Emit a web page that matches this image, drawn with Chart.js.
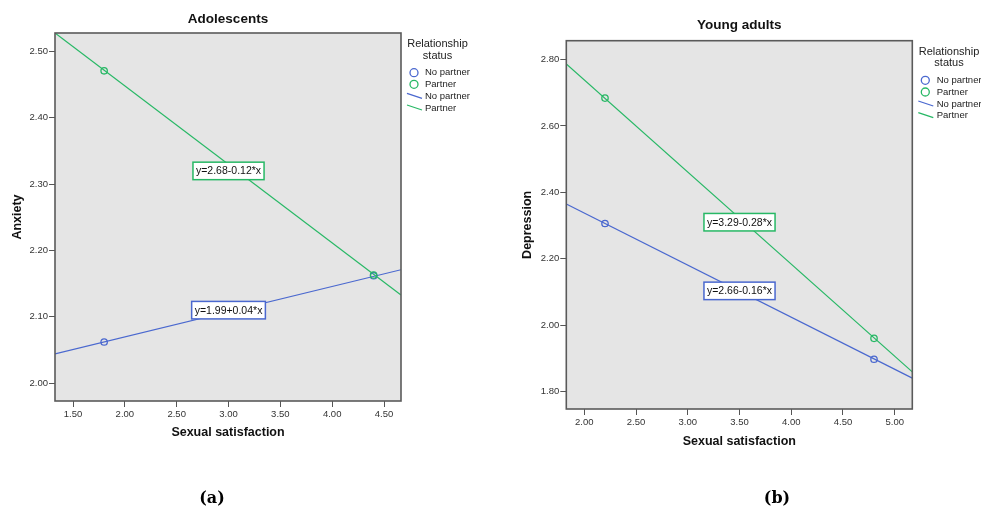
<!DOCTYPE html>
<html>
<head>
<meta charset="utf-8">
<script src="https://cdn.jsdelivr.net/npm/chart.js@4"></script>
<style>
  html, body { margin: 0; padding: 0; background: #fff; width: 981px; height: 510px; overflow: hidden; }
  canvas { position: absolute; top: 0; }
  #ca { left: 0; }
  #cb { left: 490px; }
</style>
</head>
<body>
<canvas id="ca" width="490" height="510"></canvas>
<canvas id="cb" width="491" height="510"></canvas>
<script>
// ---------- DATA ----------
const seriesNames = ['No partner', 'Partner'];
const legendTitle = ['Relationship', 'status'];

// (a) Adolescents
const titleA = 'Adolescents';
const yTitleA = 'Anxiety';
const xTitle = 'Sexual satisfaction';
const xTicksA = [1.5, 2.0, 2.5, 3.0, 3.5, 4.0, 4.5];
const yTicksA = [2.0, 2.1, 2.2, 2.3, 2.4, 2.5];
const meanXA = [1.8, 4.4];
const noPartnerMeansA = [2.062, 2.162];
const partnerMeansA = [2.471, 2.163];
const lineXA = [1.326, 4.664];
const noPartnerLineA = [2.044, 2.171];
const partnerLineA = [2.528, 2.133];
const equationsA = ['y=1.99+0.04*x', 'y=2.68-0.12*x'];

// (b) Young adults
const titleB = 'Young adults';
const yTitleB = 'Depression';
const xTicksB = [2.0, 2.5, 3.0, 3.5, 4.0, 4.5, 5.0];
const yTicksB = [1.8, 2.0, 2.2, 2.4, 2.6, 2.8];
const meanXB = [2.2, 4.8];
const noPartnerMeansB = [2.306, 1.897];
const partnerMeansB = [2.684, 1.960];
const lineXB = [1.826, 5.170];
const noPartnerLineB = [2.365, 1.840];
const partnerLineB = [2.787, 1.859];
const equationsB = ['y=2.66-0.16*x', 'y=3.29-0.28*x'];

const panelLabels = ['(a)', '(b)'];

// ---------- STYLE ----------
const BLUE = '#4a68cf';
const GREEN = '#27b865';
const colors = [BLUE, GREEN];
const SANS = '"Liberation Sans", Arial, sans-serif';

function pts(xs, ys) { return xs.map((x, i) => ({ x: x, y: ys[i] })); }

function makeDatasets(meanX, npMeans, pMeans, lineX, npLine, pLine) {
  return [
    { label: seriesNames[0], kind: 'point', data: pts(meanX, npMeans), showLine: false,
      pointRadius: 3.2, pointBorderWidth: 1.3, pointBackgroundColor: 'rgba(0,0,0,0)', borderColor: BLUE, pointBorderColor: BLUE, order: 1 },
    { label: seriesNames[1], kind: 'point', data: pts(meanX, pMeans), showLine: false,
      pointRadius: 3.2, pointBorderWidth: 1.3, pointBackgroundColor: 'rgba(0,0,0,0)', borderColor: GREEN, pointBorderColor: GREEN, order: 0 },
    { label: seriesNames[0], kind: 'line', data: pts(lineX, npLine), showLine: true,
      pointRadius: 0, borderWidth: 1.2, borderColor: BLUE, order: 3 },
    { label: seriesNames[1], kind: 'line', data: pts(lineX, pLine), showLine: true,
      pointRadius: 0, borderWidth: 1.2, borderColor: GREEN, order: 2 }
  ];
}

const panelPlugin = {
  id: 'panel',
  beforeDraw(chart, args, o) {
    const { ctx, chartArea: a } = chart;
    ctx.save();
    ctx.fillStyle = '#e5e5e5';
    ctx.fillRect(a.left, a.top, a.right - a.left, a.bottom - a.top);
    ctx.restore();
  },
  afterDatasetsDraw(chart, args, o) {
    const { ctx, chartArea: a } = chart;
    const xs = chart.scales.x, ys = chart.scales.y;
    ctx.save();
    // equation boxes
    ctx.font = '10.5px ' + SANS;
    ctx.textAlign = 'center';
    ctx.textBaseline = 'middle';
    o.equations.forEach((eq, i) => {
      const px = xs.getPixelForValue(o.eqAt[i][0]);
      const py = ys.getPixelForValue(o.eqAt[i][1]);
      const w = ctx.measureText(eq).width + 6;
      const h = 17.5;
      ctx.fillStyle = '#ffffff';
      ctx.fillRect(px - w / 2, py - h / 2, w, h);
      ctx.strokeStyle = colors[i];
      ctx.lineWidth = 1.5;
      ctx.strokeRect(px - w / 2, py - h / 2, w, h);
      ctx.fillStyle = '#111';
      ctx.fillText(eq, px, py + 0.5);
    });
    // plot frame
    ctx.strokeStyle = '#5a5a5a';
    ctx.lineWidth = 1.6;
    ctx.strokeRect(a.left, a.top, a.right - a.left, a.bottom - a.top);
    ctx.restore();
  },
  afterDraw(chart, args, o) {
    const { ctx, chartArea: a } = chart;
    ctx.save();
    // title
    ctx.fillStyle = '#111';
    ctx.font = 'bold 13.5px ' + SANS;
    ctx.textAlign = 'center';
    ctx.textBaseline = 'middle';
    ctx.fillText(o.title, (a.left + a.right) / 2, o.titleY);
    // legend
    ctx.font = '11px ' + SANS;
    ctx.fillStyle = '#222';
    ctx.fillText(legendTitle[0], o.lg.cx, o.lg.t1);
    ctx.fillText(legendTitle[1], o.lg.cx, o.lg.t2);
    ctx.font = '9.5px ' + SANS;
    ctx.textAlign = 'left';
    const ds = chart.data.datasets;
    ds.forEach((d, i) => {
      const y = o.lg.items[i];
      ctx.strokeStyle = d.borderColor;
      if (d.kind === 'point') {
        ctx.lineWidth = 1.3;
        ctx.beginPath();
        ctx.arc(o.lg.sx, y, 4, 0, Math.PI * 2);
        ctx.stroke();
      } else {
        ctx.lineWidth = 1.3;
        ctx.beginPath();
        ctx.moveTo(o.lg.sx - 7, y - 3);
        ctx.lineTo(o.lg.sx + 8, y + 2);
        ctx.stroke();
      }
      ctx.fillStyle = '#222';
      ctx.fillText(d.label, o.lg.tx, y);
    });
    // panel label
    ctx.font = 'bold 16px "DejaVu Serif", "Liberation Serif", serif';
    ctx.textAlign = 'center';
    ctx.fillStyle = '#000';
    ctx.fillText(o.panel, o.panelX, 499);
    ctx.restore();
  }
};

function makeChart(id, cfg) {
  return new Chart(document.getElementById(id), {
    type: 'scatter',
    data: { datasets: cfg.datasets },
    plugins: [panelPlugin],
    options: {
      responsive: false,
      animation: false,
      events: [],
      layout: { padding: cfg.padding },
      plugins: {
        legend: { display: false },
        tooltip: { enabled: false },
        title: { display: false },
        panel: cfg.panel
      },
      scales: {
        x: {
          type: 'linear', min: cfg.xMin, max: cfg.xMax,
          afterBuildTicks(s) { s.ticks = cfg.xTicks.map(v => ({ value: v })); },
          afterFit(s) { s.height = 45; },
          border: { display: false },
          grid: { drawOnChartArea: false, drawTicks: true, tickLength: 6, color: '#555', lineWidth: 1 },
          ticks: { color: '#333', font: { family: SANS, size: 9.5 }, padding: 1.5,
                   maxRotation: 0, autoSkip: false, callback: v => Number(v).toFixed(2) },
          title: { display: true, text: xTitle, color: '#111',
                   font: { family: SANS, size: 12.5, weight: 'bold', lineHeight: 1.2 },
                   padding: { top: 0, bottom: cfg.xTitlePad } }
        },
        y: {
          type: 'linear', min: cfg.yMin, max: cfg.yMax,
          afterBuildTicks(s) { s.ticks = cfg.yTicks.map(v => ({ value: v })); },
          afterFit(s) { s.width = cfg.yWidth; },
          border: { display: false },
          grid: { drawOnChartArea: false, drawTicks: true, tickLength: 6, color: '#555', lineWidth: 1 },
          ticks: { color: '#333', font: { family: SANS, size: 9.5 }, padding: 1,
                   autoSkip: false, callback: v => Number(v).toFixed(2) },
          title: { display: true, text: cfg.yTitle, color: '#111',
                   font: { family: SANS, size: 12.5, weight: 'bold', lineHeight: 1.2 },
                   padding: { top: 10.5, bottom: 0 } }
        }
      }
    }
  });
}

makeChart('ca', {
  datasets: makeDatasets(meanXA, noPartnerMeansA, partnerMeansA, lineXA, noPartnerLineA, partnerLineA),
  padding: { left: 0, top: 33, right: 89, bottom: 64 },
  yWidth: 55,
  xMin: 1.326, xMax: 4.664, yMin: 1.973, yMax: 2.528,
  xTicks: xTicksA, yTicks: yTicksA,
  yTitle: yTitleA, xTitlePad: 5.5,
  panel: {
    title: titleA, titleY: 19,
    equations: equationsA, eqAt: [[3.0, 2.11], [3.0, 2.32]],
    lg: { cx: 437.5, t1: 44, t2: 56, sx: 414, tx: 425, items: [72.7, 84.3, 96.3, 108] },
    panel: panelLabels[0], panelX: 212
  }
});

makeChart('cb', {
  datasets: makeDatasets(meanXB, noPartnerMeansB, partnerMeansB, lineXB, noPartnerLineB, partnerLineB),
  padding: { left: 20, top: 40.7, right: 68.7, bottom: 56 },
  yWidth: 56.3,
  xMin: 1.826, xMax: 5.170, yMin: 1.747, yMax: 2.857,
  xTicks: xTicksB, yTicks: yTicksB,
  yTitle: yTitleB, xTitlePad: 4.8,
  panel: {
    title: titleB, titleY: 25.7,
    equations: equationsB, eqAt: [[3.5, 2.103], [3.5, 2.31]],
    lg: { cx: 459, t1: 52.3, t2: 63.3, sx: 435.3, tx: 446.7, items: [80.3, 92, 104, 115.7] },
    panel: panelLabels[1], panelX: 287
  }
});
</script>
</body>
</html>
